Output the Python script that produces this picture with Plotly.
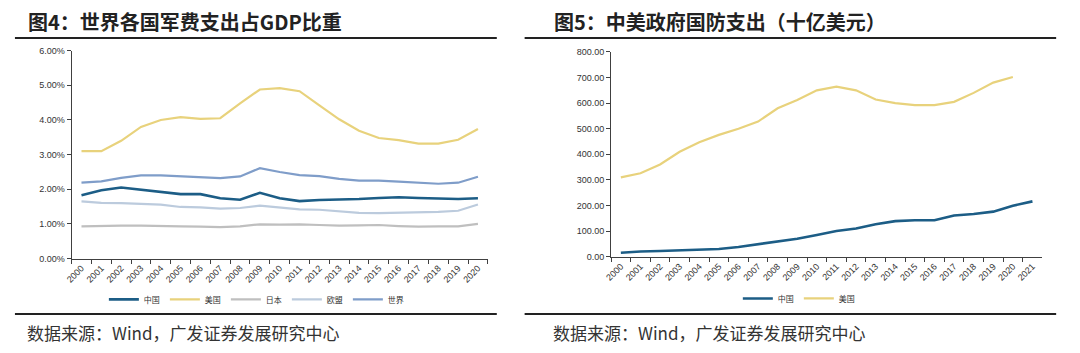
import plotly.graph_objects as go

years_left = [str(y) for y in range(2000, 2021)]
china_pct = [1.83, 1.97, 2.05, 1.99, 1.93, 1.86, 1.86, 1.74, 1.70, 1.90, 1.74, 1.66, 1.69, 1.70, 1.72, 1.75, 1.77, 1.75, 1.73, 1.72, 1.74]
us_pct = [3.10, 3.10, 3.40, 3.80, 4.00, 4.08, 4.03, 4.05, 4.48, 4.88, 4.92, 4.83, 4.42, 4.02, 3.69, 3.48, 3.42, 3.32, 3.32, 3.43, 3.74]
japan_pct = [0.93, 0.95, 0.95, 0.95, 0.95, 0.93, 0.92, 0.91, 0.93, 0.99, 0.98, 0.99, 0.97, 0.95, 0.96, 0.97, 0.94, 0.92, 0.93, 0.93, 1.00]
eu_pct = [1.65, 1.61, 1.60, 1.58, 1.56, 1.49, 1.48, 1.44, 1.46, 1.53, 1.47, 1.42, 1.41, 1.36, 1.32, 1.31, 1.32, 1.33, 1.35, 1.38, 1.56]
world_pct = [2.19, 2.23, 2.33, 2.40, 2.40, 2.38, 2.36, 2.32, 2.37, 2.61, 2.50, 2.41, 2.38, 2.30, 2.25, 2.25, 2.22, 2.18, 2.16, 2.19, 2.36]

years_right = [str(y) for y in range(2000, 2022)]
china_bn = [15, 20, 22, 25, 28, 30, 38, 48, 60, 70, 85, 100, 110, 127, 139, 142, 142, 161, 167, 176, 199, 216]
us_bn = [310, 326, 360, 410, 447, 476, 500, 528, 580, 612, 650, 664, 650, 614, 600, 592, 592, 605, 640, 680, 702]

C_CHINA = "#1C5D86"
C_US = "#E8D27C"
C_JAPAN = "#BFBFBF"
C_EU = "#BCCBDD"
C_WORLD = "#7F9DC9"

FONT = "Liberation Sans, Arial, sans-serif"
CJK = "Noto Sans CJK SC"

fig = go.Figure()

left_series = [("中国", china_pct, C_CHINA, 2.6), ("美国", us_pct, C_US, 2.2),
               ("日本", japan_pct, C_JAPAN, 2.2), ("欧盟", eu_pct, C_EU, 2.2),
               ("世界", world_pct, C_WORLD, 2.2)]
for name, vals, col, w in left_series:
    fig.add_trace(go.Scatter(x=years_left, y=[v / 100 for v in vals], name=name, mode="lines",
                             line=dict(color=col, width=w), xaxis="x", yaxis="y", legend="legend"))

right_series = [("中国", china_bn, C_CHINA, 2.6), ("美国", us_bn, C_US, 2.2)]
for name, vals, col, w in right_series:
    fig.add_trace(go.Scatter(x=years_right[:len(vals)], y=vals, name=name, mode="lines",
                             line=dict(color=col, width=w), xaxis="x2", yaxis="y2", legend="legend2"))

axis_common = dict(showline=True, linecolor="#404040", linewidth=1, ticks="outside",
                   ticklen=4, tickcolor="#404040", showgrid=False, zeroline=False,
                   tickfont=dict(family=FONT, size=9, color="#333333"))

fig.update_layout(
    width=1080, height=353,
    margin=dict(l=0, r=0, t=0, b=0),
    paper_bgcolor="white", plot_bgcolor="white",
    showlegend=True,
    xaxis=dict(domain=[65 / 1080, 484 / 1080], type="category", range=[-0.5, 20.5],
               tickangle=-45, tickson="boundaries", anchor="y", **axis_common),
    yaxis=dict(domain=[92 / 353, 306 / 353], range=[0, 0.06], dtick=0.01, tickformat=".2%",
               anchor="x", **axis_common),
    xaxis2=dict(domain=[608 / 1080, 1042 / 1080], type="category", range=[-0.5, 21.5],
                tickangle=-45, tickson="boundaries", anchor="y2", **axis_common),
    yaxis2=dict(domain=[94 / 353, 304.7 / 353], range=[0, 800], dtick=100, tickformat=".2f",
                anchor="x2", **axis_common),
    legend=dict(orientation="h", x=251 / 1080, y=50 / 353, xanchor="center", yanchor="middle",
                font=dict(family=CJK, size=8, color="#333333"), bgcolor="rgba(0,0,0,0)",
                itemwidth=30, tracegroupgap=0),
    legend2=dict(orientation="h", x=797 / 1080, y=51 / 353, xanchor="center", yanchor="middle",
                 font=dict(family=CJK, size=8, color="#333333"), bgcolor="rgba(0,0,0,0)",
                 itemwidth=30, tracegroupgap=0),
)

# Title rules and footer rules
for x0, x1 in [(8, 493), (521, 1056)]:
    for yy in [34, 318]:
        fig.add_shape(type="line", xref="paper", yref="paper",
                      x0=x0 / 1080, x1=x1 / 1080, y0=(353 - yy) / 353, y1=(353 - yy) / 353,
                      line=dict(color="#222222", width=2))

titles = [(19, "图4：世界各国军费支出占GDP比重"), (549, "图5：中美政府国防支出（十亿美元）")]
for x, t in titles:
    fig.add_annotation(text="<b>" + t + "</b>", xref="paper", yref="paper",
                       x=x / 1080, y=(353 - 17) / 353, xanchor="left", yanchor="middle",
                       showarrow=False, font=dict(family=CJK, size=20, color="#222222"))

for x in [18, 548]:
    fig.add_annotation(text="数据来源：Wind，广发证券发展研究中心", xref="paper", yref="paper",
                       x=x / 1080, y=(353 - 337) / 353, xanchor="left", yanchor="middle",
                       showarrow=False, font=dict(family=CJK, size=17, color="#333333"))

fig.write_html("out.html")
